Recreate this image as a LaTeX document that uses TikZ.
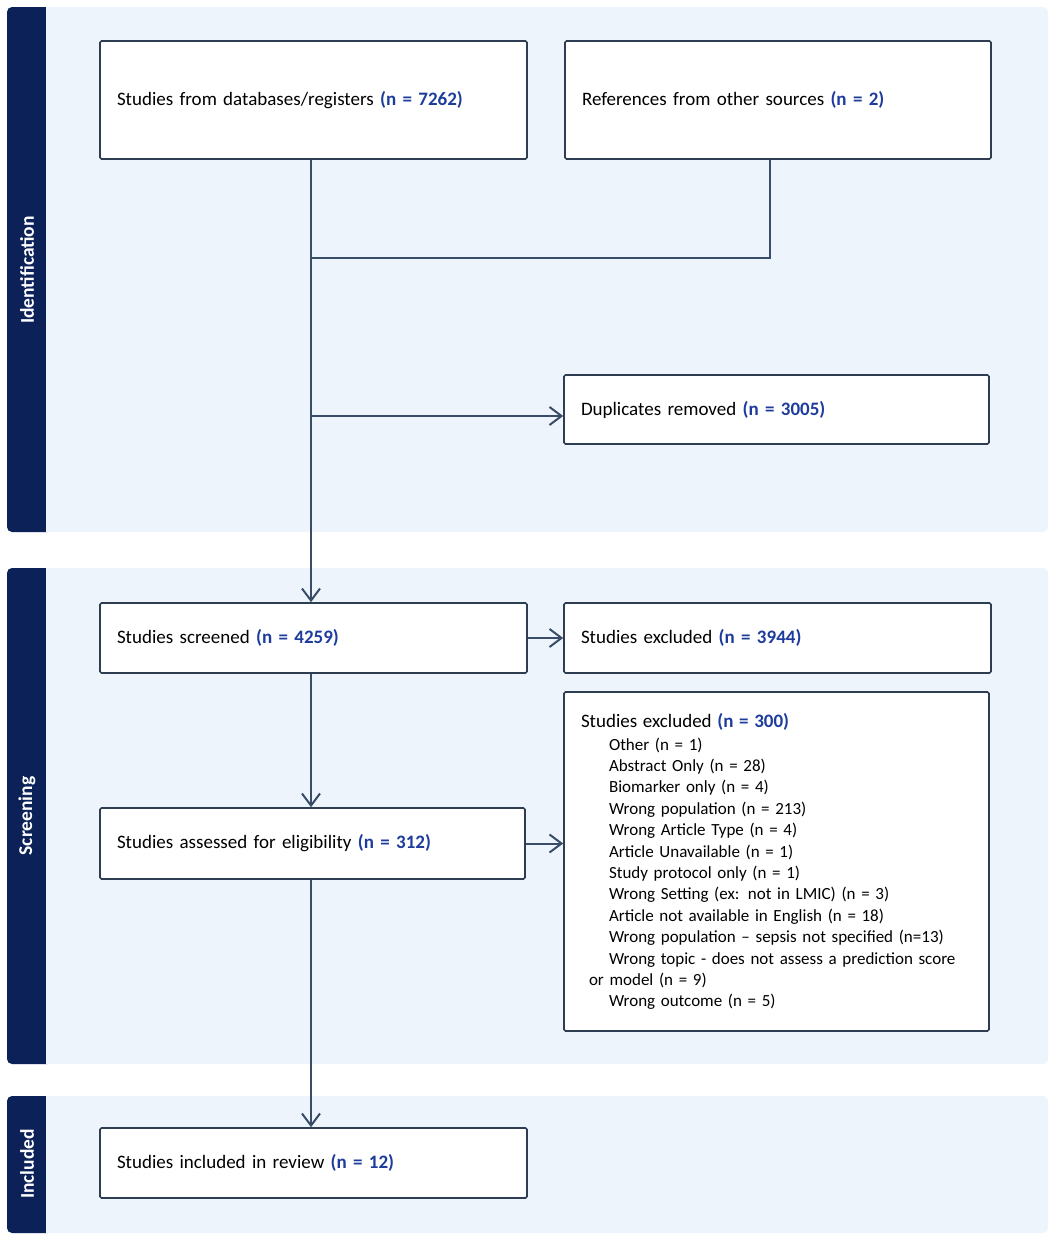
\documentclass[tikz,border=0pt]{standalone}
\usepackage{fontspec}
\setmainfont{Carlito}
\usetikzlibrary{arrows.meta}
\definecolor{navy}{HTML}{0C2158}
\definecolor{panel}{HTML}{EEF4FC}
\definecolor{edge}{HTML}{2E3D52}
\definecolor{arr}{HTML}{3A4D68}
\definecolor{nblue}{HTML}{1D3C9C}
\newcommand{\nn}[1]{\textcolor{nblue}{\textbf{#1}}}
\tikzset{
  box/.style={draw=edge, line width=1.6pt, fill=white, rounded corners=1.5pt, inner xsep=17pt, inner ysep=0pt, align=left, font=\fontsize{19}{22}\selectfont, text=black},
  tabtxt/.style={text=white, font=\bfseries\fontsize{19.5}{22}\selectfont, rotate=90},
  conn/.style={draw=arr, line width=2pt},
  arrow/.style={conn, -{Straight Barb[length=12pt,width=18pt,line width=2pt]}}
}
\begin{document}
\begin{tikzpicture}[x=1pt,y=-1pt]
\useasboundingbox (0,0) rectangle (1053,1242);
\fill[white] (0,0) rectangle (1053,1242);
% panels
\fill[panel, rounded corners=6pt] (7,7) rectangle (1048,532);
\fill[panel, rounded corners=6pt] (7,568) rectangle (1048,1064);
\fill[panel, rounded corners=6pt] (7,1096) rectangle (1048,1233);
\fill[navy, rounded corners=5pt] (7,7) rectangle (52,532);
\fill[panel] (46,7) rectangle (60,532);
\fill[navy, rounded corners=5pt] (7,568) rectangle (52,1064);
\fill[panel] (46,568) rectangle (60,1064);
\fill[navy, rounded corners=5pt] (7,1096) rectangle (52,1233);
\fill[panel] (46,1096) rectangle (60,1233);
\node[tabtxt] (tid) at (27,270) {Identification};
\node[tabtxt] (tsc) at (27,816) {Screening};
\node[tabtxt] (tin) at (27,1164) {Included};
% boxes
\node[box, text width=393pt, minimum height=118pt] (db) at (313.5,100) {Studies from databases/registers \nn{(n = 7262)}};
\node[box, text width=392pt, minimum height=118pt] (oth) at (778,100) {References from other sources \nn{(n = 2)}};
\node[box, text width=391pt, minimum height=69pt] (dup) at (776.5,409.5) {Duplicates removed \nn{(n = 3005)}};
\node[box, text width=393pt, minimum height=70pt] (scr) at (313.5,638) {Studies screened \nn{(n = 4259)}};
\node[box, text width=393pt, minimum height=70pt] (ex1) at (777.5,638) {Studies excluded \nn{(n = 3944)}};
\node[box, text width=391pt, minimum height=71pt] (elig) at (312.5,843.5) {Studies assessed for eligibility \nn{(n = 312)}};
\node[box, text width=393pt, minimum height=70pt] (inc) at (313.5,1163) {Studies included in review \nn{(n = 12)}};
\node[box, text width=391pt, minimum height=339pt, font=\fontsize{17}{21.4}\selectfont] (ex2) at (776.5,861.5) {{\fontsize{19}{21.4}\selectfont Studies excluded \nn{(n = 300)}}\\[1.5pt]
\hspace*{28pt}Other (n = 1)\\
\hspace*{28pt}Abstract Only (n = 28)\\
\hspace*{28pt}Biomarker only (n = 4)\\
\hspace*{28pt}Wrong population (n = 213)\\
\hspace*{28pt}Wrong Article Type (n = 4)\\
\hspace*{28pt}Article Unavailable (n = 1)\\
\hspace*{28pt}Study protocol only (n = 1)\\
\hspace*{28pt}Wrong Setting (ex: not in LMIC) (n = 3)\\
\hspace*{28pt}Article not available in English (n = 18)\\
\hspace*{28pt}Wrong population -- sepsis not specified (n=13)\\
\hspace*{28pt}Wrong topic - does not assess a prediction score\\
\hspace*{8pt}or model (n = 9)\\
\hspace*{28pt}Wrong outcome (n = 5)};
% connectors
\coordinate (trunk) at (311,0);
\coordinate (join) at (311,258);
\coordinate (dupy) at (311,416);
\draw[conn] (db.south -| trunk) -- (join);
\draw[conn] (oth.south -| 770,0) -- (770,258) -- (join);
\draw[arrow] (join) -- (scr.north -| trunk);
\draw[arrow] (dupy) -- (dup.west |- dupy);
\draw[arrow] (scr.east) -- (ex1.west);
\draw[arrow] (scr.south -| trunk) -- (elig.north -| trunk);
\draw[arrow] (elig.east) -- (ex2.west |- elig.east);
\draw[arrow] (elig.south -| trunk) -- (inc.north -| trunk);
\end{tikzpicture}
\end{document}
